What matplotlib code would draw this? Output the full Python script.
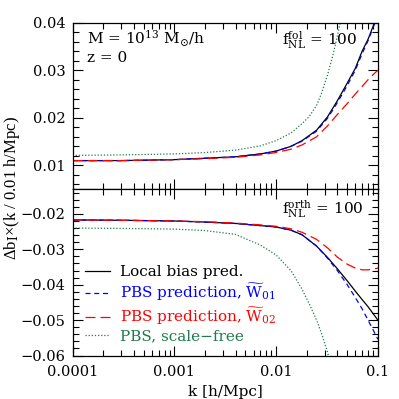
import matplotlib
matplotlib.use("Agg")
import matplotlib.pyplot as plt
from matplotlib.ticker import FixedLocator, FuncFormatter, LogLocator, MultipleLocator, NullFormatter

plt.rcParams["font.family"] = "DejaVu Serif"
plt.rcParams["mathtext.fontset"] = "dejavuserif"

# k grid [h/Mpc]
k = [1e-4, 3e-4, 1e-3, 2e-3, 4e-3, 7e-3, 0.01, 0.014, 0.018, 0.025,
     0.032, 0.04, 0.05, 0.06, 0.07, 0.08, 0.09, 0.1]
k_sf_top = [1e-4, 3e-4, 1e-3, 2e-3, 4e-3, 7e-3, 0.01, 0.014, 0.018, 0.021, 0.025,
            0.028, 0.032, 0.036, 0.04, 0.045]
k_sf_bot = [1e-4, 3e-4, 1e-3, 2e-3, 4e-3, 7e-3, 0.01, 0.014, 0.018, 0.021, 0.025,
            0.028, 0.032, 0.035]

# top panel: f_NL^fol = 100
local_top = [0.0110, 0.0110, 0.0112, 0.0115, 0.0118, 0.0124, 0.0130, 0.0140, 0.0152,
             0.0174, 0.0202, 0.0236, 0.0273, 0.0304, 0.0340, 0.0365, 0.0393, 0.0418]
w01_top = [0.0110, 0.0110, 0.0112, 0.0115, 0.0118, 0.0124, 0.0130, 0.0140, 0.0151,
           0.0172, 0.0199, 0.0232, 0.0268, 0.0300, 0.0335, 0.0362, 0.0390, 0.0416]
w02_top = [0.0110, 0.0110, 0.0112, 0.0114, 0.0117, 0.0122, 0.0127, 0.0134, 0.0143,
           0.0160, 0.0183, 0.0207, 0.0230, 0.0250, 0.0266, 0.0280, 0.0291, 0.0300]
sf_top = [0.0121, 0.0122, 0.0124, 0.0127, 0.0132, 0.0141, 0.0152, 0.0168, 0.0188,
          0.0202, 0.0226, 0.0252, 0.0290, 0.0330, 0.0372, 0.0425]

# bottom panel: f_NL^orth = 100
local_bot = [-0.0217, -0.0218, -0.0220, -0.0223, -0.0227, -0.0233, -0.0237, -0.0246, -0.0259,
             -0.0291, -0.0323, -0.0355, -0.0389, -0.0418, -0.0442, -0.0462, -0.0482, -0.0500]
w01_bot = [-0.0217, -0.0218, -0.0220, -0.0223, -0.0227, -0.0233, -0.0237, -0.0246, -0.0259,
           -0.0291, -0.0325, -0.0360, -0.0400, -0.0436, -0.0468, -0.0500, -0.0528, -0.0554]
w02_bot = [-0.0217, -0.0218, -0.0220, -0.0222, -0.0226, -0.0231, -0.0235, -0.0242, -0.0252,
           -0.0272, -0.0296, -0.0322, -0.0342, -0.0353, -0.0358, -0.0358, -0.0356, -0.0353]
sf_bot = [-0.0240, -0.0241, -0.0243, -0.0247, -0.0258, -0.0288, -0.0316, -0.0360, -0.0413,
          -0.0452, -0.0500, -0.0538, -0.0590, -0.0640]

GREEN = "#1e7b4a"

fig = plt.figure(figsize=(3.99, 3.99), dpi=100)
ax1 = fig.add_axes([0.182, 0.526, 0.765, 0.417])
ax2 = fig.add_axes([0.182, 0.109, 0.765, 0.417], sharex=ax1)


def styled(ax):
    ax.set_xscale("log")
    ax.set_xlim(1e-4, 0.1)
    ax.xaxis.set_major_locator(FixedLocator([1e-4, 1e-3, 1e-2, 1e-1]))
    ax.xaxis.set_minor_locator(LogLocator(base=10, subs=range(2, 10), numticks=20))
    ax.xaxis.set_minor_formatter(NullFormatter())
    ax.yaxis.set_major_locator(MultipleLocator(0.01))
    ax.yaxis.set_minor_locator(MultipleLocator(0.002))
    ax.tick_params(which="both", direction="in", top=True, right=True, labelsize=10.5)
    ax.tick_params(which="major", length=7, width=0.8)
    ax.tick_params(which="minor", length=4, width=0.8)
    ax.tick_params(axis="x", pad=6.5)
    ax.tick_params(axis="y", pad=5)
    for s in ax.spines.values():
        s.set_linewidth(0.9)


for ax, lo, w1, w2, ks, sf in ((ax1, local_top, w01_top, w02_top, k_sf_top, sf_top),
                               (ax2, local_bot, w01_bot, w02_bot, k_sf_bot, sf_bot)):
    styled(ax)
    ax.plot(k, lo, color="k", lw=0.9, label="Local bias pred.")
    ax.plot(k, w1, color="#0000ff", lw=0.9, ls=(0, (4, 3)),
            label=r"PBS prediction, $\widetilde{\mathrm{W}}_{01}$")
    ax.plot(k, w2, color="#ff0000", lw=0.9, ls=(0, (8, 4)),
            label=r"PBS prediction, $\widetilde{\mathrm{W}}_{02}$")
    ax.plot(ks, sf, color=GREEN, lw=0.9, ls=(0, (1, 1.5)), label="PBS, scale\u2212free")

ax1.set_ylim(0.005, 0.04)
ax2.set_ylim(-0.06, -0.013)
ax1.tick_params(labelbottom=False)
fmt = FuncFormatter(lambda v, p: ("%g" % round(v, 4)).replace("-", "\u2212"))
ax1.yaxis.set_major_formatter(fmt)
ax2.yaxis.set_major_formatter(fmt)
ax2.xaxis.set_major_formatter(FuncFormatter(lambda v, p: ("%.4f" % v).rstrip("0")))

ax1.text(0.046, 0.87, r"M = 10$^{13}$ M$_{\odot}$/h", transform=ax1.transAxes,
         fontsize=11, va="baseline")
ax1.text(0.046, 0.765, "z = 0", transform=ax1.transAxes, fontsize=11, va="baseline")
ax1.text(0.685, 0.866, r"f$_{\mathrm{NL}}^{\mathrm{fol}}$ = 100", transform=ax1.transAxes,
         fontsize=11, va="baseline")
ax2.text(0.685, 0.85, r"f$_{\mathrm{NL}}^{\mathrm{orth}}$ = 100", transform=ax2.transAxes,
         fontsize=11, va="baseline")

ax2.legend(loc="lower left", bbox_to_anchor=(0.02, 0.034), borderaxespad=0, frameon=False,
           fontsize=11, handlelength=1.65, handletextpad=0.65, labelspacing=0.16,
           labelcolor="linecolor")

ax2.set_xlabel("k [h/Mpc]", fontsize=11, labelpad=5)
fig.text(0.03, 0.528, "\u0394b$_{\\mathrm{I}}$\u00d7(k / 0.01 h/Mpc)",
         rotation=90, va="center", ha="center", fontsize=12,
         family=["Liberation Serif", "DejaVu Serif"])

fig.savefig("out.png", dpi=100)
